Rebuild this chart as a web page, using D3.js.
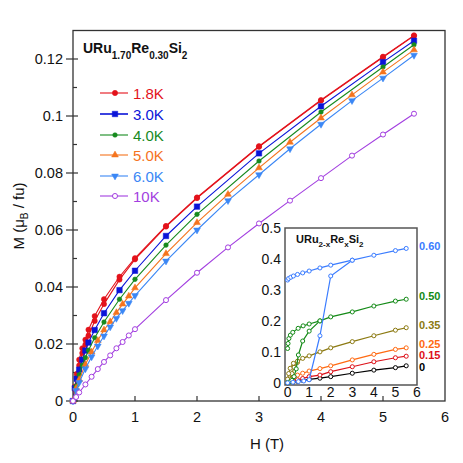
<!DOCTYPE html>
<html>
<head>
<meta charset="utf-8">
<script src="https://cdn.jsdelivr.net/npm/d3@7"></script>
<style>
  body { margin: 0; background: #fff; }
  svg { font-family: 'Liberation Sans', Arial, sans-serif; }
</style>
</head>
<body>
<svg id="chart" width="463" height="463"></svg>
<script>
'use strict';

// ---- main panel data: M (muB / fu) vs H (T) ----
var legendLabels = ['1.8K', '3.0K', '4.0K', '5.0K', '6.0K', '10K'];

var hCoarse = [0, 0.03, 0.06, 0.1, 0.15, 0.2, 0.25, 0.35, 0.5, 0.75, 1, 1.5, 2, 3, 4, 5, 5.5];
var m18Up = [0, 0.005, 0.0095, 0.0145, 0.0185, 0.0215, 0.025, 0.0298, 0.0357, 0.0436, 0.0501, 0.0614, 0.0714, 0.0894, 0.1056, 0.1208, 0.1283];
var m18Down = [0, 0.0042, 0.008, 0.0125, 0.0168, 0.0198, 0.0229, 0.0281, 0.034, 0.0426, 0.0497, 0.0612, 0.0712, 0.0892, 0.1054, 0.1206, 0.1281];
var m30 = [0, 0.0045, 0.0078, 0.011, 0.0145, 0.0177, 0.0205, 0.0249, 0.0308, 0.0389, 0.0457, 0.0579, 0.0682, 0.0869, 0.1034, 0.1189, 0.1264];

var hGreen = [0, 0.05, 0.1, 0.15, 0.2, 0.25, 0.35, 0.5, 0.75, 1, 1.5, 2, 3, 4, 5, 5.5];
var m40 = [0, 0.0052, 0.0092, 0.0125, 0.0152, 0.0178, 0.0222, 0.0277, 0.0357, 0.0427, 0.0547, 0.0655, 0.0842, 0.1014, 0.1172, 0.125];

var hFine = [0, 0.05, 0.1, 0.2, 0.3, 0.4, 0.5, 0.6, 0.7, 0.8, 0.9, 1, 1.5, 2, 2.5, 3, 3.5, 4, 4.5, 5, 5.5];
var m50 = [0, 0.0045, 0.0075, 0.0128, 0.0172, 0.0212, 0.0249, 0.0278, 0.031, 0.034, 0.0368, 0.0397, 0.0517, 0.0626, 0.0725, 0.0818, 0.0908, 0.0993, 0.1074, 0.1154, 0.1232];
var m60 = [0, 0.0037, 0.0065, 0.0113, 0.0155, 0.0193, 0.0228, 0.026, 0.029, 0.0317, 0.0343, 0.037, 0.0491, 0.06, 0.0703, 0.0794, 0.0885, 0.0971, 0.1054, 0.1133, 0.1213];
var m100 = [0, 0.0014, 0.003, 0.0058, 0.0085, 0.0112, 0.0137, 0.016, 0.0185, 0.0207, 0.023, 0.0252, 0.0354, 0.045, 0.0539, 0.0623, 0.0703, 0.0782, 0.0861, 0.0935, 0.1008];

var yTickVals = [0, 0.02, 0.04, 0.06, 0.08, 0.1, 0.12];
var yTickLabels = ['0', '0.02', '0.04', '0.06', '0.08', '0.1', '0.12'];
var xTickVals = [0, 1, 2, 3, 4, 5, 6];

// ---- inset data: URu2-xRexSi2 ----
var insetLabels = ['0.60', '0.50', '0.35', '0.25', '0.15', '0'];

var h060Up = [0, 0.05, 0.15, 0.27, 0.46, 0.7, 1, 1.5, 2, 3, 4, 5, 5.5];
var m060Up = [0.332, 0.337, 0.341, 0.345, 0.35, 0.355, 0.361, 0.371, 0.38, 0.396, 0.412, 0.427, 0.434];
var h060Virgin = [0, 0.25, 0.5, 0.75, 1, 1.5, 2, 3];
var m060Virgin = [0, 0.002, 0.004, 0.006, 0.01, 0.152, 0.345, 0.396];

var h050Up = [0, 0.02, 0.06, 0.13, 0.24, 0.49, 0.72, 1, 1.5, 2, 3, 4, 5, 5.5];
var m050Up = [0.111, 0.127, 0.143, 0.154, 0.163, 0.176, 0.184, 0.19, 0.2, 0.213, 0.229, 0.248, 0.264, 0.27];
var h050Virgin = [0, 0.1, 0.2, 0.3, 0.4, 0.5, 0.7, 1, 1.5];
var m050Virgin = [0, 0.003, 0.008, 0.02, 0.045, 0.09, 0.135, 0.167, 0.2];

var h035Up = [0, 0.05, 0.12, 0.27, 0.46, 0.7, 1, 1.5, 2, 3, 4, 5, 5.5];
var m035Up = [0.012, 0.03, 0.047, 0.063, 0.07, 0.079, 0.087, 0.1, 0.113, 0.133, 0.152, 0.17, 0.178];
var h035Virgin = [0, 0.1, 0.2, 0.3, 0.46];
var m035Virgin = [0, 0.012, 0.03, 0.05, 0.066];

var hLow = [0, 0.27, 0.46, 0.7, 1, 1.5, 2, 3, 4, 5, 5.5];
var m025 = [0, 0.018, 0.025, 0.031, 0.038, 0.046, 0.055, 0.074, 0.092, 0.108, 0.113];
var m015 = [0, 0.006, 0.01, 0.014, 0.02, 0.025, 0.036, 0.052, 0.068, 0.081, 0.086];
var m000 = [0, 0.003, 0.005, 0.008, 0.011, 0.015, 0.02, 0.031, 0.041, 0.049, 0.055];

var insetYTicks = [0, 0.1, 0.2, 0.3, 0.4, 0.5];
var insetYLabels = ['0', '0.1', '0.2', '0.3', '0.4', '0.5'];
var insetXTicks = [0, 1, 2, 3, 4, 5, 6];

function zipPts(h, m) {
	return h.map(function (d, i) { return [d, m[i]]; });
}

var svg = d3.select('#chart');

var plot = { left: 73, right: 445, top: 30.5, bottom: 401 };
var x = d3.scaleLinear().domain([0, 6]).range([plot.left, plot.right]);
var y = d3.scaleLinear().domain([0, 0.13]).range([plot.bottom, plot.top]);

// frame
svg.append('rect')
	.attr('x', plot.left).attr('y', plot.top)
	.attr('width', plot.right - plot.left).attr('height', plot.bottom - plot.top)
	.attr('fill', 'none').attr('stroke', '#333').attr('stroke-width', 1.3);

// y ticks
var yMinor = d3.range(0.01, 0.13, 0.02);
svg.selectAll('line.ymaj').data(yTickVals).enter().append('line')
	.attr('x1', plot.left - 7).attr('x2', plot.left + 5)
	.attr('y1', function (d) { return y(d); }).attr('y2', function (d) { return y(d); })
	.attr('stroke', '#333').attr('stroke-width', 1.2);
svg.selectAll('line.ymin').data(yMinor).enter().append('line')
	.attr('x1', plot.left).attr('x2', plot.left + 4)
	.attr('y1', function (d) { return y(d); }).attr('y2', function (d) { return y(d); })
	.attr('stroke', '#333').attr('stroke-width', 1.2);
svg.selectAll('text.ylab').data(yTickVals).enter().append('text')
	.attr('x', plot.left - 10).attr('y', function (d) { return y(d) + 5; })
	.attr('text-anchor', 'end').attr('font-size', 14.5).attr('fill', '#111')
	.text(function (d, i) { return yTickLabels[i]; });

// x ticks
svg.selectAll('line.xmaj').data(xTickVals.slice(1, 6)).enter().append('line')
	.attr('x1', function (d) { return x(d); }).attr('x2', function (d) { return x(d); })
	.attr('y1', plot.bottom).attr('y2', plot.bottom - 5)
	.attr('stroke', '#333').attr('stroke-width', 1.2);
svg.selectAll('text.xlab').data(xTickVals).enter().append('text')
	.attr('x', function (d) { return x(d); }).attr('y', plot.bottom + 21)
	.attr('text-anchor', 'middle').attr('font-size', 14.5).attr('fill', '#111')
	.text(function (d) { return d; });

// axis titles
svg.append('text').attr('x', 267).attr('y', 449)
	.attr('text-anchor', 'middle').attr('font-size', 15).attr('fill', '#111').text('H (T)');
var yt = svg.append('text').attr('transform', 'translate(24,216) rotate(-90)')
	.attr('text-anchor', 'middle').attr('font-size', 15).attr('fill', '#111');
yt.append('tspan').text('M (\u03bc');
yt.append('tspan').attr('dy', 4).attr('font-size', 10).text('B');
yt.append('tspan').attr('dy', -4).text(' / fu)');

// title
var title = svg.append('text').attr('x', 83).attr('y', 53)
	.attr('font-size', 14).attr('font-weight', 'bold').attr('fill', '#111');
title.append('tspan').text('URu');
title.append('tspan').attr('dy', 6).attr('font-size', 10).text('1.70');
title.append('tspan').attr('dy', -6).text('Re');
title.append('tspan').attr('dy', 6).attr('font-size', 10).text('0.30');
title.append('tspan').attr('dy', -6).text('Si');
title.append('tspan').attr('dy', 6).attr('font-size', 10).text('2');

// series
var mainSeries = [
	{ pts: zipPts(hCoarse, m18Down), color: '#e3121b', shape: d3.symbolCircle, size: 22, open: false },
	{ pts: zipPts(hCoarse, m18Up), color: '#e3121b', shape: d3.symbolCircle, size: 22, open: false, legend: 0 },
	{ pts: zipPts(hCoarse, m30), color: '#0a14d8', shape: d3.symbolSquare, size: 30, open: false, legend: 1 },
	{ pts: zipPts(hGreen, m40), color: '#178a1f', shape: d3.symbolCircle, size: 17, open: false, legend: 2 },
	{ pts: zipPts(hFine, m50), color: '#f5741e', shape: d3.symbolTriangle, size: 20, open: false, legend: 3 },
	{ pts: zipPts(hFine, m60), color: '#3b87f5', shape: d3.symbolTriangle, size: 20, open: false, down: true, legend: 4 },
	{ pts: zipPts(hFine, m100), color: '#a33fe0', shape: d3.symbolCircle, size: 20, open: true, legend: 5 }
];

var line = d3.line().x(function (d) { return x(d[0]); }).y(function (d) { return y(d[1]); });

function drawMarkers(g, pts, s, sx, sy) {
	g.selectAll('path.mk').data(pts).enter().append('path')
		.attr('d', d3.symbol().type(s.shape).size(s.size))
		.attr('transform', function (d) {
			return 'translate(' + sx(d[0]) + ',' + sy(d[1]) + ')' + (s.down ? ' rotate(180)' : '');
		})
		.attr('fill', s.open ? '#fff' : s.color)
		.attr('stroke', s.color).attr('stroke-width', s.open ? 1 : 0.5);
}

mainSeries.forEach(function (s) {
	var g = svg.append('g');
	g.append('path').attr('d', line(s.pts)).attr('fill', 'none')
		.attr('stroke', s.color).attr('stroke-width', 1.1);
	drawMarkers(g, s.pts, s, x, y);
});

// legend
var legendY = [93, 114, 135, 155, 176, 196];
mainSeries.filter(function (s) { return s.legend !== undefined; }).forEach(function (s) {
	var ly = legendY[s.legend];
	var g = svg.append('g');
	g.append('line').attr('x1', 100).attr('x2', 128).attr('y1', ly).attr('y2', ly)
		.attr('stroke', s.color).attr('stroke-width', s.legend === 1 ? 1.6 : 1.1);
	var fake = d3.scaleIdentity();
	drawMarkers(g, [[115, ly]], s, fake, fake);
	g.append('text').attr('x', 133).attr('y', ly + 5.5)
		.attr('font-size', 15).attr('fill', s.color).text(legendLabels[s.legend]);
});

// ---- inset ----
var ins = { left: 285, right: 417, top: 228, bottom: 385 };
var ix = d3.scaleLinear().domain([-0.12, 6]).range([ins.left, ins.right]);
var iy = d3.scaleLinear().domain([-0.007, 0.5]).range([ins.bottom, ins.top]);

svg.append('rect')
	.attr('x', ins.left).attr('y', ins.top)
	.attr('width', ins.right - ins.left).attr('height', ins.bottom - ins.top)
	.attr('fill', '#fff').attr('stroke', '#555').attr('stroke-width', 1.5);

svg.selectAll('text.iylab').data(insetYTicks).enter().append('text')
	.attr('x', ins.left - 4).attr('y', function (d) { return iy(d) + 5; })
	.attr('text-anchor', 'end').attr('font-size', 14).attr('fill', '#111')
	.text(function (d, i) { return insetYLabels[i]; });
svg.selectAll('text.ixlab').data(insetXTicks).enter().append('text')
	.attr('x', function (d) { return ix(d); }).attr('y', ins.bottom + 12)
	.attr('text-anchor', 'middle').attr('font-size', 14).attr('fill', '#111')
	.text(function (d) { return d; });

var it = svg.append('text').attr('x', 296).attr('y', 243)
	.attr('font-size', 11).attr('font-weight', 'bold').attr('fill', '#111');
it.append('tspan').text('URu');
it.append('tspan').attr('dy', 4).attr('font-size', 8).text('2-x');
it.append('tspan').attr('dy', -4).text('Re');
it.append('tspan').attr('dy', 4).attr('font-size', 8).text('x');
it.append('tspan').attr('dy', -4).text('Si');
it.append('tspan').attr('dy', 4).attr('font-size', 8).text('2');

var insetColors = ['#3a7cff', '#138a16', '#8c7a12', '#ff6a12', '#dd1018', '#000'];
var insetSeries = [
	{ pts: zipPts(hLow, m000), c: 5 },
	{ pts: zipPts(hLow, m015), c: 4 },
	{ pts: zipPts(hLow, m025), c: 3 },
	{ pts: zipPts(h035Virgin, m035Virgin), c: 2 },
	{ pts: zipPts(h035Up, m035Up), c: 2 },
	{ pts: zipPts(h050Virgin, m050Virgin), c: 1 },
	{ pts: zipPts(h050Up, m050Up), c: 1 },
	{ pts: zipPts(h060Virgin, m060Virgin), c: 0 },
	{ pts: zipPts(h060Up, m060Up), c: 0 }
];
var iline = d3.line().x(function (d) { return ix(d[0]); }).y(function (d) { return iy(d[1]); });
insetSeries.forEach(function (s) {
	var col = insetColors[s.c];
	var g = svg.append('g');
	g.append('path').attr('d', iline(s.pts)).attr('fill', 'none')
		.attr('stroke', col).attr('stroke-width', 1.2);
	drawMarkers(g, s.pts, { shape: d3.symbolCircle, size: 13, open: true, color: col }, ix, iy);
});

var insetLabelY = [250, 300, 328.5, 347.5, 359, 370.5];
insetLabels.forEach(function (lab, i) {
	svg.append('text').attr('x', 419).attr('y', insetLabelY[i])
		.attr('font-size', 11).attr('font-weight', 'bold').attr('fill', insetColors[i]).text(lab);
});
</script>
</body>
</html>
